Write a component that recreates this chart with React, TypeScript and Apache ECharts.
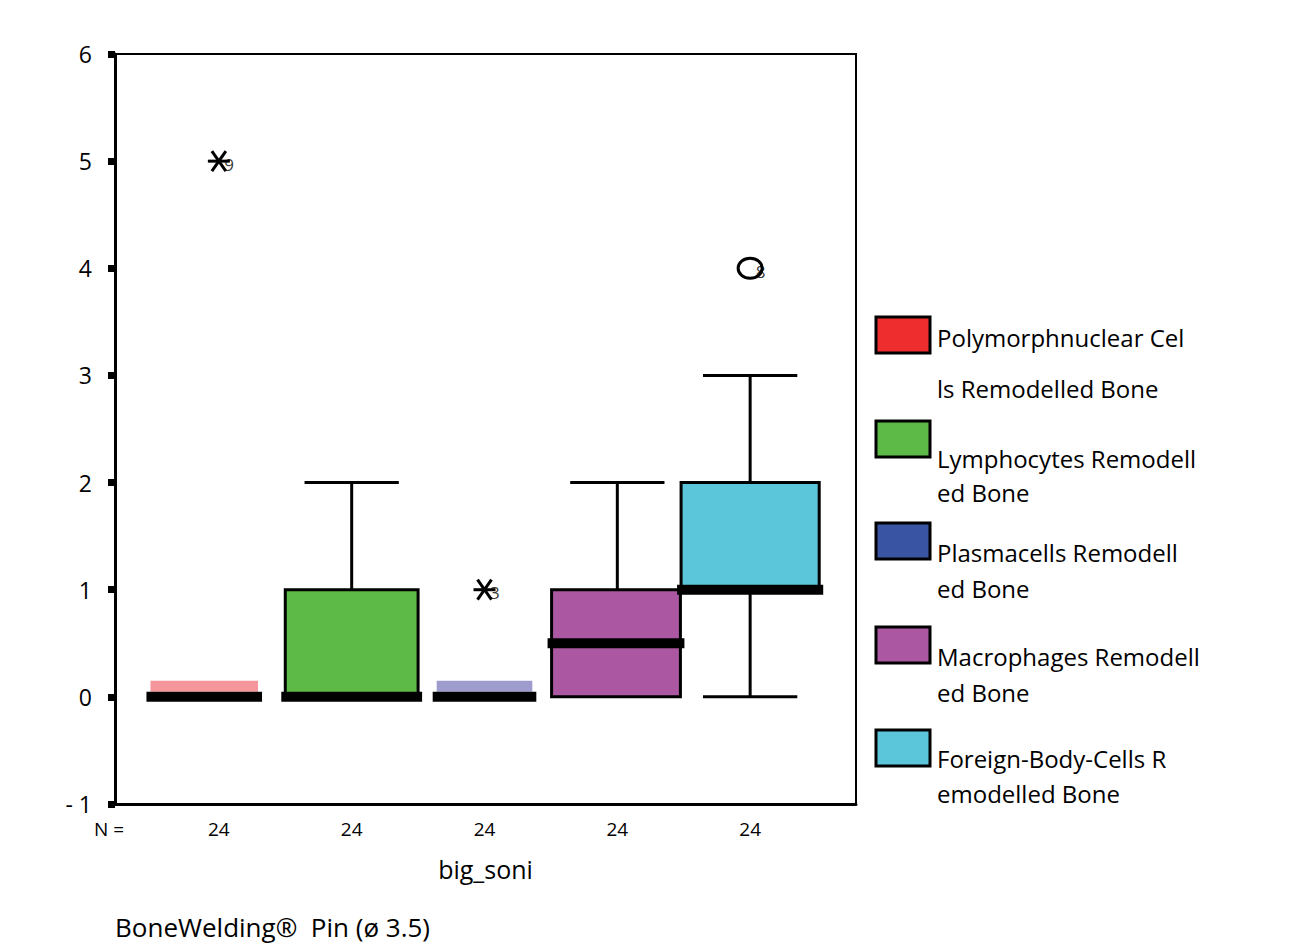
import React, { useEffect, useRef } from "react";
import * as echarts from "echarts";

// ---------- data ----------
const categories = [
  "Polymorphnuclear Cells Remodelled Bone",
  "Lymphocytes Remodelled Bone",
  "Plasmacells Remodelled Bone",
  "Macrophages Remodelled Bone",
  "Foreign-Body-Cells Remodelled Bone",
];
const boxMin = [0, 0, 0, 0, 0];
const boxQ1 = [0, 0, 0, 0, 1];
const boxMedian = [0, 0, 0, 0.5, 1];
const boxQ3 = [0, 1, 0, 1, 2];
const boxMax = [0, 2, 0, 2, 3];
const nCounts = [24, 24, 24, 24, 24];

const outlierGroup = [1, 3, 5];
const outlierValue = [5, 1, 4];
const outlierCase = ["9", "3", "8"];
const outlierKind = ["extreme", "extreme", "outlier"];

const xAxisTitle = "big_soni";
const footerTitle = "BoneWelding®  Pin (ø 3.5)";

// ---------- styles / layout ----------
const FAM = "'Open Sans', 'DejaVu Sans', sans-serif";
const font = (px: number) => `${px}px ${FAM}`;
const boxFill = ["#f4969c", "#5dba47", "#9e9ccc", "#ab57a2", "#5bc6d9"];
const legendFill = ["#ee2e2e", "#5dba47", "#3a54a4", "#ab57a2", "#5bc6d9"];
const boxWidthUnits = [0.81, 1.0, 0.72, 0.97, 1.04];
const boxShiftUnits = [-0.11, 0, 0, -0.01, 0];
const capWidthUnits = 0.71;
const legendSquareTop = [317, 421, 523, 627, 730];
const legendLine1Y = [337, 458, 552, 656, 758];
const legendLine2Y = [388, 492, 588, 692, 793];

export default function App() {
  const ref = useRef<HTMLDivElement>(null);

  useEffect(() => {
    const chart = echarts.init(ref.current!, null, { renderer: "svg" });

    const boxData = categories.map((_, i) => [
      i + 1,
      boxMin[i],
      boxQ1[i],
      boxMedian[i],
      boxQ3[i],
      boxMax[i],
    ]);

    const renderBox = (params: any, api: any) => {
      const i = params.dataIndex;
      const x = api.value(0);
      const mn = api.value(1);
      const q1 = api.value(2);
      const md = api.value(3);
      const q3 = api.value(4);
      const mx = api.value(5);
      const unit = api.size([1, 0])[0];
      const cx = api.coord([x + boxShiftUnits[i], 0])[0];
      const wx = api.coord([x, 0])[0];
      const yOf = (v: number) => api.coord([x, v])[1];
      const w = boxWidthUnits[i] * unit;
      const capW = capWidthUnits * unit;
      const children: any[] = [];
      const lineStyle = { stroke: "#000", lineWidth: 3 };
      if (mx > q3) {
        children.push({
          type: "line",
          shape: { x1: wx, y1: yOf(q3), x2: wx, y2: yOf(mx) },
          style: lineStyle,
        });
        children.push({
          type: "line",
          shape: { x1: wx - capW / 2, y1: yOf(mx), x2: wx + capW / 2, y2: yOf(mx) },
          style: lineStyle,
        });
      }
      if (mn < q1) {
        children.push({
          type: "line",
          shape: { x1: wx, y1: yOf(q1), x2: wx, y2: yOf(mn) },
          style: lineStyle,
        });
        children.push({
          type: "line",
          shape: { x1: wx - capW / 2, y1: yOf(mn), x2: wx + capW / 2, y2: yOf(mn) },
          style: lineStyle,
        });
      }
      if (q3 > q1) {
        children.push({
          type: "rect",
          shape: { x: cx - w / 2, y: yOf(q3), width: w, height: yOf(q1) - yOf(q3) },
          style: { fill: boxFill[i], stroke: "#000", lineWidth: 3 },
        });
      } else {
        children.push({
          type: "rect",
          shape: { x: cx - w / 2, y: yOf(q1) - 16, width: w, height: 11 },
          style: { fill: boxFill[i] },
        });
      }
      children.push({
        type: "rect",
        shape: { x: cx - w / 2 - 4, y: yOf(md) - 5, width: w + 8, height: 10 },
        style: { fill: "#000" },
      });
      return { type: "group", children };
    };

    const outlierData = outlierGroup.map((g, i) => [g, outlierValue[i]]);
    const renderOutlier = (params: any, api: any) => {
      const i = params.dataIndex;
      const [px, py] = api.coord([api.value(0), api.value(1)]);
      const children: any[] = [];
      const ls = { stroke: "#000", lineWidth: 3 };
      if (outlierKind[i] === "extreme") {
        children.push({ type: "line", shape: { x1: px - 11, y1: py, x2: px + 11, y2: py }, style: ls });
        children.push({ type: "line", shape: { x1: px - 7, y1: py - 10, x2: px + 7, y2: py + 10 }, style: ls });
        children.push({ type: "line", shape: { x1: px - 7, y1: py + 10, x2: px + 7, y2: py - 10 }, style: ls });
      } else {
        children.push({
          type: "ellipse",
          shape: { cx: px, cy: py, rx: 12, ry: 10 },
          style: { fill: "none", stroke: "#000", lineWidth: 3 },
        });
      }
      return { type: "group", children };
    };

    const legendGraphics: any[] = [];
    categories.forEach((name, i) => {
      legendGraphics.push({
        type: "rect",
        shape: { x: 876, y: legendSquareTop[i], width: 54, height: 36 },
        style: { fill: legendFill[i], stroke: "#000", lineWidth: 3 },
      });
      legendGraphics.push({
        type: "text",
        x: 937,
        y: legendLine1Y[i],
        style: {
          text: name.slice(0, 20),
          font: font(24),
          fill: "#000",
          verticalAlign: "middle",
        },
      });
      legendGraphics.push({
        type: "text",
        x: 937,
        y: legendLine2Y[i],
        style: {
          text: name.slice(20),
          font: font(24),
          fill: "#000",
          verticalAlign: "middle",
        },
      });
    });

    const option: any = {
      animation: false,
      backgroundColor: "#fff",
      textStyle: { fontFamily: FAM },
      grid: {
        left: 115,
        top: 54,
        width: 741,
        height: 750,
        show: true,
        borderColor: "#000",
        borderWidth: 2,
        backgroundColor: "transparent",
      },
      xAxis: {
        type: "value",
        min: 0.218,
        max: 5.797,
        axisLine: { show: true, onZero: false, lineStyle: { color: "#000", width: 3 } },
        axisTick: { show: false },
        splitLine: { show: false },
        axisLabel: {
          customValues: [1, 2, 3, 4, 5],
          formatter: (v: number) => String(nCounts[Math.round(v) - 1]),
          fontSize: 19,
          color: "#000",
          margin: 15,
          fontFamily: FAM,
        },
        name: xAxisTitle,
        nameLocation: "middle",
        nameGap: 52,
        nameTextStyle: { fontSize: 25, color: "#000", fontFamily: FAM },
      },
      yAxis: {
        type: "value",
        min: -1,
        max: 6,
        interval: 1,
        axisLine: { show: true, onZero: false, lineStyle: { color: "#000", width: 3 } },
        axisTick: { show: true, length: 7, lineStyle: { color: "#000", width: 7 } },
        splitLine: { show: false },
        axisLabel: {
          fontSize: 23,
          color: "#000",
          margin: 23,
          fontFamily: FAM,
          formatter: (v: number) => (v < 0 ? "- " + Math.abs(v) : String(v)),
        },
      },
      series: [
        {
          type: "custom",
          name: "boxes",
          data: boxData,
          encode: { x: 0, y: [1, 2, 3, 4, 5] },
          renderItem: renderBox,
          clip: false,
          z: 2,
        },
        {
          type: "custom",
          name: "outliers",
          data: outlierData,
          encode: { x: 0, y: 1 },
          renderItem: renderOutlier,
          clip: false,
          z: 3,
        },
        {
          type: "scatter",
          name: "outlier labels",
          data: outlierData,
          symbolSize: 1,
          itemStyle: { color: "transparent" },
          silent: true,
          z: 4,
          label: {
            show: true,
            position: "right",
            distance: 5,
            offset: [0, 3],
            formatter: (p: any) => outlierCase[p.dataIndex],
            fontSize: 17,
            color: "#000",
            fontFamily: FAM,
          },
        },
      ],
      graphic: [
        ...legendGraphics,
        {
          type: "text",
          x: 94,
          y: 829,
          style: {
            text: "N =",
            font: font(19),
            fill: "#000",
            verticalAlign: "middle",
          },
        },
        {
          type: "text",
          x: 115,
          y: 927,
          style: {
            text: footerTitle,
            font: font(26),
            fill: "#000",
            verticalAlign: "middle",
          },
        },
      ],
    };

    chart.setOption(option);
    return () => chart.dispose();
  }, []);

  return (
    <div
      ref={ref}
      style={{ position: "fixed", left: 0, top: 0, width: 1297, height: 946, background: "#fff" }}
    />
  );
}
